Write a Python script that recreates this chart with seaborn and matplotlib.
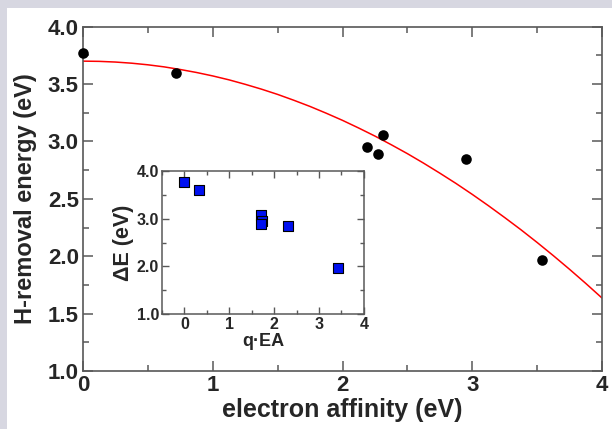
import numpy as np
import pandas as pd
import matplotlib
matplotlib.use("Agg")
import matplotlib.pyplot as plt
import seaborn as sns
from matplotlib.patches import Rectangle
from matplotlib.ticker import MultipleLocator

# main panel data: electron affinity vs H-removal energy
ea = [0.0, 0.715, 2.19, 2.27, 2.31, 2.955, 3.54]
e_removal = [3.77, 3.60, 2.95, 2.89, 3.06, 2.85, 1.97]

# red fit curve
fit_x = [0.0, 0.125, 0.25, 0.375, 0.5, 0.625, 0.75, 0.875, 1.0, 1.125, 1.25, 1.375,
         1.5, 1.625, 1.75, 1.875, 2.0, 2.125, 2.25, 2.375, 2.5, 2.625, 2.75, 2.875,
         3.0, 3.125, 3.25, 3.375, 3.5, 3.625, 3.75, 3.875, 4.0]
fit_y = [3.700, 3.698, 3.692, 3.682, 3.668, 3.650, 3.627, 3.601, 3.571, 3.537, 3.498, 3.456,
         3.410, 3.359, 3.305, 3.246, 3.184, 3.117, 3.047, 2.972, 2.894, 2.811, 2.724, 2.634,
         2.539, 2.440, 2.337, 2.231, 2.120, 2.005, 1.886, 1.763, 1.636]

# inset data: q*EA vs delta E
q_ea = [0.0, 0.32, 1.70, 1.74, 1.70, 2.31, 3.42]
delta_e = [3.77, 3.60, 3.07, 2.95, 2.89, 2.85, 1.97]

main_df = pd.DataFrame({"ea": ea, "E": e_removal})
fit_df = pd.DataFrame({"x": fit_x, "y": fit_y})
inset_df = pd.DataFrame({"qea": q_ea, "dE": delta_e})

sns.set_style("ticks")
plt.rcParams["font.family"] = ["Liberation Sans", "DejaVu Sans"]
plt.rcParams["font.weight"] = "bold"

spine_col = "#585858"

fig = plt.figure(figsize=(6.12, 4.29), dpi=100)
fig.patch.set_facecolor("#d7d7e1")
bg = Rectangle((7 / 612, 0), 1, 1 - 8 / 429, transform=fig.transFigure,
               facecolor="white", edgecolor="none", zorder=-10)
fig.add_artist(bg)

ax = fig.add_axes([83 / 612, 58 / 429, 519 / 612, 344.3 / 429])
ax.set_facecolor("none")
sns.lineplot(data=fit_df, x="x", y="y", ax=ax, color="red", linewidth=1.1, zorder=2)
sns.scatterplot(data=main_df, x="ea", y="E", ax=ax, color="black", s=58,
                edgecolor="black", linewidth=0, zorder=3, clip_on=False)
ax.set_xlim(0, 4)
ax.set_ylim(1.0, 4.0)
ax.xaxis.set_major_locator(MultipleLocator(1))
ax.xaxis.set_minor_locator(MultipleLocator(0.5))
ax.yaxis.set_major_locator(MultipleLocator(0.5))
ax.yaxis.set_minor_locator(MultipleLocator(0.25))
ax.set_yticks(ax.get_yticks())
ax.set_yticklabels([f"{v:.1f}" for v in ax.get_yticks()])
ax.set_ylim(1.0, 4.0)
ax.tick_params(which="both", direction="in", top=True, right=True, color=spine_col, width=1.1)
ax.tick_params(which="major", length=7, labelsize=16, pad=3)
ax.tick_params(which="minor", length=4)
for lab in ax.get_xticklabels() + ax.get_yticklabels():
    lab.set_fontweight("bold")
for sp in ax.spines.values():
    sp.set_visible(True)
    sp.set_color(spine_col)
    sp.set_linewidth(1.2)
ax.set_xlabel("electron affinity (eV)", fontsize=18, fontweight="bold", labelpad=1)
ax.set_ylabel("H-removal energy (eV)", fontsize=17, fontweight="bold", labelpad=8)

# inset
ins = fig.add_axes([162 / 612, 114.7 / 429, 201.8 / 612, 143.6 / 429])
sns.scatterplot(data=inset_df, x="qea", y="dE", ax=ins, marker="s", color="#0010f0",
                s=42, edgecolor="black", linewidth=0.8, zorder=3)
ins.set_xlim(-0.5, 4)
ins.set_ylim(1.0, 4.0)
ins.xaxis.set_major_locator(MultipleLocator(1))
ins.xaxis.set_minor_locator(MultipleLocator(0.5))
ins.yaxis.set_major_locator(MultipleLocator(1))
ins.yaxis.set_minor_locator(MultipleLocator(0.5))
ins.set_yticks(ins.get_yticks())
ins.set_yticklabels([f"{v:.1f}" for v in ins.get_yticks()])
ins.set_ylim(1.0, 4.0)
ins.tick_params(which="both", direction="in", top=True, right=True, color=spine_col, width=1.0)
ins.tick_params(which="major", length=5, labelsize=11.5, pad=2)
ins.tick_params(which="minor", length=3)
for lab in ins.get_xticklabels() + ins.get_yticklabels():
    lab.set_fontweight("bold")
for sp in ins.spines.values():
    sp.set_visible(True)
    sp.set_color(spine_col)
    sp.set_linewidth(1.1)
ins.set_xlabel("q·EA", fontsize=13, fontweight="bold", labelpad=1)
ins.set_ylabel("ΔE (eV)", fontsize=15.5, fontweight="bold", labelpad=2)

fig.savefig("out.png", dpi=100)
